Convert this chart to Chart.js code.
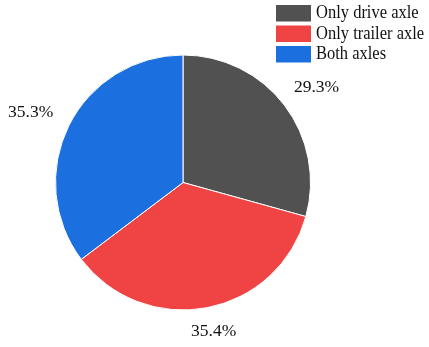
<!DOCTYPE html>
<html>
<head>
<meta charset="utf-8">
<script src="https://cdn.jsdelivr.net/npm/chart.js@4/dist/chart.umd.min.js"></script>
<style>
  html, body { margin: 0; padding: 0; background: #fff; }
  #wrap { position: relative; width: 429px; height: 347px; }
</style>
</head>
<body>
<div id="wrap"><canvas id="pie"></canvas></div>
<script>
const categories = ['Only drive axle', 'Only trailer axle', 'Both axles']
const shares = [29.3, 35.4, 35.3]
const colors = ['#515151', '#f04343', '#1b6fde']

const SERIF = '"Liberation Serif", "Times New Roman", serif'
const TEXT_COLOR = '#111111'

// text drawn a little taller than wide
const tallText = (ctx, text, x, y, stretch) => {
    ctx.save()
    ctx.translate(x, y)
    ctx.scale(1, stretch)
    ctx.fillText(text, 0, 0)
    ctx.restore()
}

// percentage labels sitting just outside each slice
const outsideLabels = {
    id: 'outsideLabels',
    afterDatasetsDraw(chart) {
        const ctx = chart.ctx
        const meta = chart.getDatasetMeta(0)
        const total = shares.reduce((a, b) => a + b, 0)
        ctx.save()
        ctx.font = '17.5px ' + SERIF
        ctx.fillStyle = TEXT_COLOR
        ctx.textAlign = 'center'
        ctx.textBaseline = 'middle'
        meta.data.forEach((arc, i) => {
            const mid = (arc.startAngle + arc.endAngle) / 2
            const gap = arc.outerRadius + 19
            const text = (shares[i] / total * 100).toFixed(1) + '%'
            const w = ctx.measureText(text).width
            const h = 14
            const cos = Math.cos(mid)
            const sin = Math.sin(mid)
            const x = arc.x + gap * cos + cos * w / 2 - 1
            const y = arc.y + gap * sin + sin * h / 2 - 2
            ctx.fillText(text, x, y)
        })
        ctx.restore()
    }
}

// legend in the top right corner
const cornerLegend = {
    id: 'cornerLegend',
    afterDraw(chart) {
        const ctx = chart.ctx
        ctx.save()
        ctx.font = '16.5px ' + SERIF
        ctx.textBaseline = 'middle'
        ctx.textAlign = 'left'
        categories.forEach((label, i) => {
            const y = 5 + i * 20.5
            ctx.fillStyle = colors[i]
            ctx.fillRect(276, y, 35, 16.5)
            ctx.fillStyle = TEXT_COLOR
            tallText(ctx, label, 316, y + 8.5, 1.08)
        })
        ctx.restore()
    }
}

new Chart(document.getElementById('pie'), {
    type: 'pie',
    data: {
        labels: categories,
        datasets: [{
            data: shares,
            backgroundColor: colors,
            borderColor: '#ffffff',
            borderWidth: 1
        }]
    },
    options: {
        responsive: true,
        maintainAspectRatio: false,
        animation: false,
        layout: {
            padding: { left: 55, right: 118, top: 54, bottom: 36 }
        },
        plugins: {
            legend: { display: false },
            tooltip: { enabled: false }
        }
    },
    plugins: [outsideLabels, cornerLegend]
})
</script>
</body>
</html>
